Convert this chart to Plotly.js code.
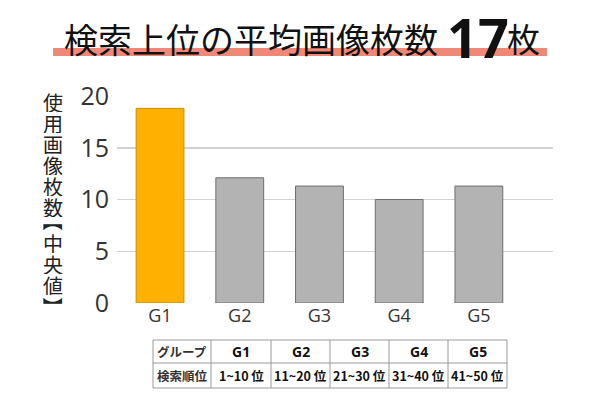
<!DOCTYPE html>
<html>
<head>
<meta charset="utf-8">
<script src="https://cdn.plot.ly/plotly-3.0.1.min.js"></script>
<style>html,body{margin:0;padding:0;background:#fff;}#chart{width:600px;height:400px;}</style>
</head>
<body>
<div id="chart"></div>
<script>
const groups = ["G1", "G2", "G3", "G4", "G5"];
const medianImages = [18.8, 12.1, 11.3, 10.0, 11.3];
const ranks = ["1~10 位", "11~20 位", "21~30 位", "31~40 位", "41~50 位"];
const headerLabel = "グループ";
const rowLabel = "検索順位";
const yTitleChars = ["使","用","画","像","枚","数","【","中","央","値","】"];
const titleMain = "検索上位の平均画像枚数";
const titleValue = "17";
const titleUnit = "枚";

const jp = '"Noto Sans CJK JP", "Noto Sans", sans-serif';
const num = '"Open Sans", "Noto Sans", sans-serif';

// plot-area geometry helpers (pixels -> paper)
const L = 117, R = 47, T = 96, B = 10, W = 600 - L - R, H = 400 - T - B;
const px = v => (v - L) / W;
const py = v => (400 - B - v) / H;

const barColors = groups.map((g, i) => i === 0 ? "#FFB000" : "#B3B3B3");
const barLines = groups.map((g, i) => i === 0 ? "#C98E00" : "#6E6E6E");

const bar = {
  type: "bar", x: groups, y: medianImages,
  marker: {color: barColors, line: {color: barLines, width: 1}},
  width: 0.6, hoverinfo: "skip"
};

const annotations = [];
const shapes = [];

// vertical y-axis title (brackets rotated into their vertical form)
let yCursor = 102;
yTitleChars.forEach((c, i) => {
  const isOpen = c === "【", isClose = c === "】";
  if (i > 0) yCursor += (isOpen || isClose || yTitleChars[i - 1] === "【") ? 18 : 21;
  annotations.push({
    text: c, xref: "paper", yref: "paper",
    x: px(53),
    y: py(yCursor + (isOpen ? -4 : isClose ? 4 : 0)),
    xanchor: "center", yanchor: "middle", showarrow: false,
    textangle: (isOpen || isClose) ? 90 : 0,
    height: 20,
    font: {family: jp, size: 20, color: "#222222"}
  });
});

// title
annotations.push({
  text: titleMain, xref: "paper", yref: "paper",
  x: px(440), y: py(38), xanchor: "right", yanchor: "middle", showarrow: false,
  font: {family: jp, size: 34, color: "#111111"}
});
annotations.push({
  text: "<b>" + titleValue + "</b>", xref: "paper", yref: "paper",
  x: px(445), y: py(37), xanchor: "left", yanchor: "middle", showarrow: false,
  font: {family: num, size: 54, color: "#111111"}
});
annotations.push({
  text: titleUnit, xref: "paper", yref: "paper",
  x: px(505), y: py(38), xanchor: "left", yanchor: "middle", showarrow: false,
  font: {family: jp, size: 33, color: "#111111"}
});
shapes.push({
  type: "rect", xref: "paper", yref: "paper",
  x0: px(53), x1: px(547), y0: py(56), y1: py(48),
  fillcolor: "#F08878", line: {width: 0}, layer: "below"
});

// table under the chart
const colWidths = [58, 60, 59, 59, 59, 59];
const tableLeft = 153, rowTops = [340, 363, 388];
const colEdges = [tableLeft];
colWidths.forEach(w => colEdges.push(colEdges[colEdges.length - 1] + w));
const tableRight = colEdges[colEdges.length - 1];
const lineStyle = {color: "#9a9a9a", width: 1};
rowTops.forEach(yv => shapes.push({type: "line", xref: "paper", yref: "paper",
  x0: px(tableLeft), x1: px(tableRight), y0: py(yv), y1: py(yv), line: lineStyle, layer: "above"}));
colEdges.forEach(xv => shapes.push({type: "line", xref: "paper", yref: "paper",
  x0: px(xv), x1: px(xv), y0: py(rowTops[0]), y1: py(rowTops[2]), line: lineStyle, layer: "above"}));

const row1 = [headerLabel].concat(groups);
const row2 = [rowLabel].concat(ranks);
[row1, row2].forEach((row, r) => {
  const yc = (rowTops[r] + rowTops[r + 1]) / 2;
  row.forEach((t, c) => {
    const xc = (colEdges[c] + colEdges[c + 1]) / 2;
    const isHeaderG = (r === 0 && c > 0);
    annotations.push({
      text: "<b>" + t + "</b>", xref: "paper", yref: "paper",
      x: px(xc), y: py(yc), xanchor: "center", yanchor: "middle", showarrow: false,
      font: {family: isHeaderG ? num : jp, size: isHeaderG ? 14 : 12.5, color: c === 0 ? "#333333" : "#111111"}
    });
  });
});

const layout = {
  width: 600, height: 400,
  margin: {l: L, r: R, t: T, b: B},
  paper_bgcolor: "#ffffff", plot_bgcolor: "rgba(0,0,0,0)",
  showlegend: false,
  xaxis: {range: [-0.54, 4.93], showgrid: false, zeroline: false, showline: false, ticks: "",
    tickfont: {family: num, size: 18, color: "#333333"}},
  yaxis: {domain: [py(303), 1], range: [0, 20], tickvals: [0, 5, 10, 15, 20],
    showgrid: true, gridcolor: "#d2d2d2", gridwidth: 1.5, zeroline: false, showline: false, ticks: "",
    ticklabelstandoff: 7, tickfont: {family: num, size: 25, color: "#333333"}},
  shapes: shapes,
  annotations: annotations
};

Plotly.newPlot("chart", [bar], layout, {displayModeBar: false, staticPlot: true});
</script>
</body>
</html>
